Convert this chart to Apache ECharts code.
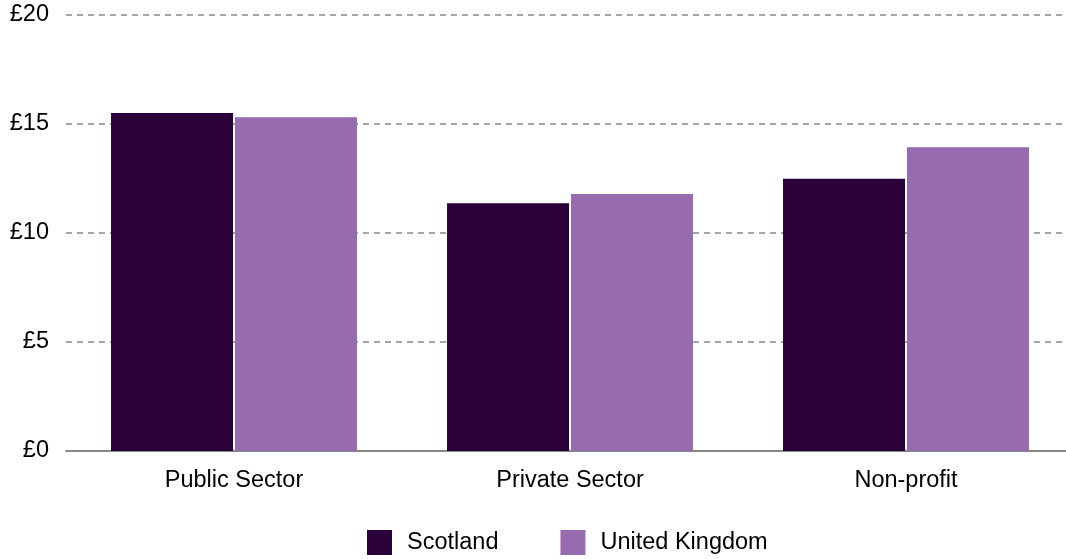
<!DOCTYPE html>
<html><head><meta charset="utf-8">
<script src="https://cdn.jsdelivr.net/npm/echarts@6/dist/echarts.min.js"></script>
<style>html,body{margin:0;padding:0;background:#fff}#c{width:1066px;height:559px}</style>
</head><body><div id="c"></div>
<script>
const categories = ['Public Sector', 'Private Sector', 'Non-profit'];
const scotland = [15.50, 11.36, 12.49];
const uk = [15.31, 11.79, 13.93];
const yTicks = [0, 5, 10, 15, 20];

const chart = echarts.init(document.getElementById('c'));
const font = 'Liberation Sans, Arial, sans-serif';
chart.setOption({
  animation: false,
  textStyle: { fontFamily: font },
  grid: { left: 66, width: 1008, top: 15, bottom: 108, outerBoundsMode: 'none', containLabel: false },
  legend: {
    bottom: -1, left: 362, itemWidth: 25, itemHeight: 25, itemGap: 62,
    icon: 'rect',
    textStyle: { fontSize: 23.5, color: '#000', fontFamily: font, padding: [0, 0, 0, 10] },
    data: ['Scotland', 'United Kingdom']
  },
  xAxis: {
    type: 'category', data: categories,
    axisLine: { lineStyle: { color: '#888', width: 2 } },
    axisTick: { show: false },
    axisLabel: { fontSize: 23.5, color: '#000', margin: 18, fontFamily: font }
  },
  yAxis: {
    type: 'value', min: 0, max: 20, interval: 5,
    axisLine: { show: false }, axisTick: { show: false },
    splitLine: { lineStyle: { color: '#888', type: [6, 5], width: 1.5 } },
    axisLabel: { fontSize: 23.5, color: '#000', margin: 17, fontFamily: font,
      formatter: v => yTicks.includes(v) ? '£' + v : '' }
  },
  series: [
    { name: 'Scotland', type: 'bar', data: scotland, barGap: '1.6%', barCategoryGap: '26.8%',
      itemStyle: { color: '#2b023b' } },
    { name: 'United Kingdom', type: 'bar', data: uk,
      itemStyle: { color: '#966baf' } }
  ]
});
</script></body></html>
